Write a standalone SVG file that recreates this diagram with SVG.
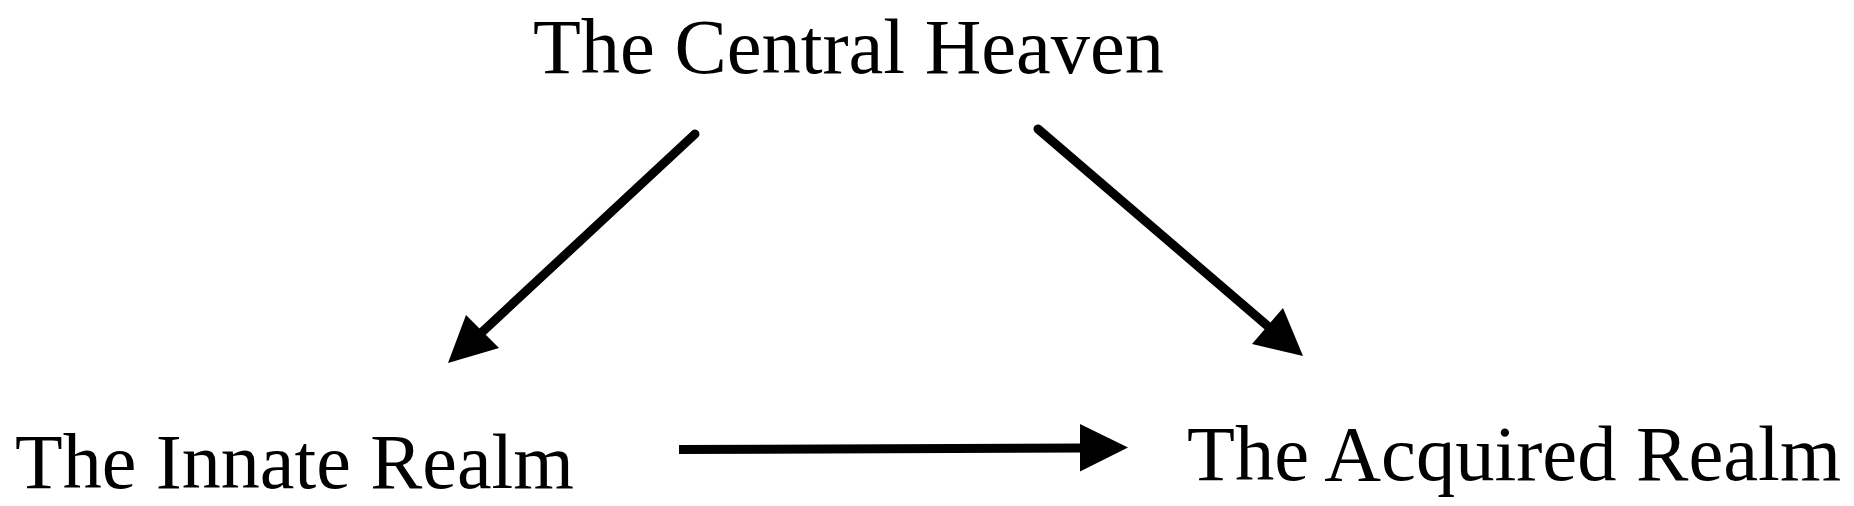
<svg xmlns="http://www.w3.org/2000/svg" width="1854" height="506" viewBox="0 0 1854 506">
<style>
.lbl{font-family:"Liberation Serif","Times New Roman",serif;font-size:78px;fill:#000}
.ln{stroke:#000;stroke-width:9;fill:none}
.hd{fill:#000;stroke:none}
</style>
<rect width="1854" height="506" fill="#fff"/>
<g id="central-heaven"><text class="lbl" x="533" y="73" textLength="631" lengthAdjust="spacingAndGlyphs">The Central Heaven</text></g>
<g id="innate-realm"><text class="lbl" x="15" y="488" textLength="559" lengthAdjust="spacingAndGlyphs">The Innate Realm</text></g>
<g id="acquired-realm"><text class="lbl" x="1187" y="480" textLength="654" lengthAdjust="spacingAndGlyphs">The Acquired Realm</text></g>
<g id="connectors">
<line class="ln" x1="695" y1="134" x2="480" y2="334" stroke-linecap="round"/>
<polygon class="hd" points="448,363 466,315 499,348"/>
<line class="ln" x1="1038" y1="129" x2="1270" y2="328" stroke-linecap="round"/>
<polygon class="hd" points="1303,356 1283,308 1252,344"/>
<path class="ln" d="M679,449.5 L1082,448"/>
<polygon class="hd" points="1080,424 1128,447.5 1080,471.5"/>
</g>
</svg>
